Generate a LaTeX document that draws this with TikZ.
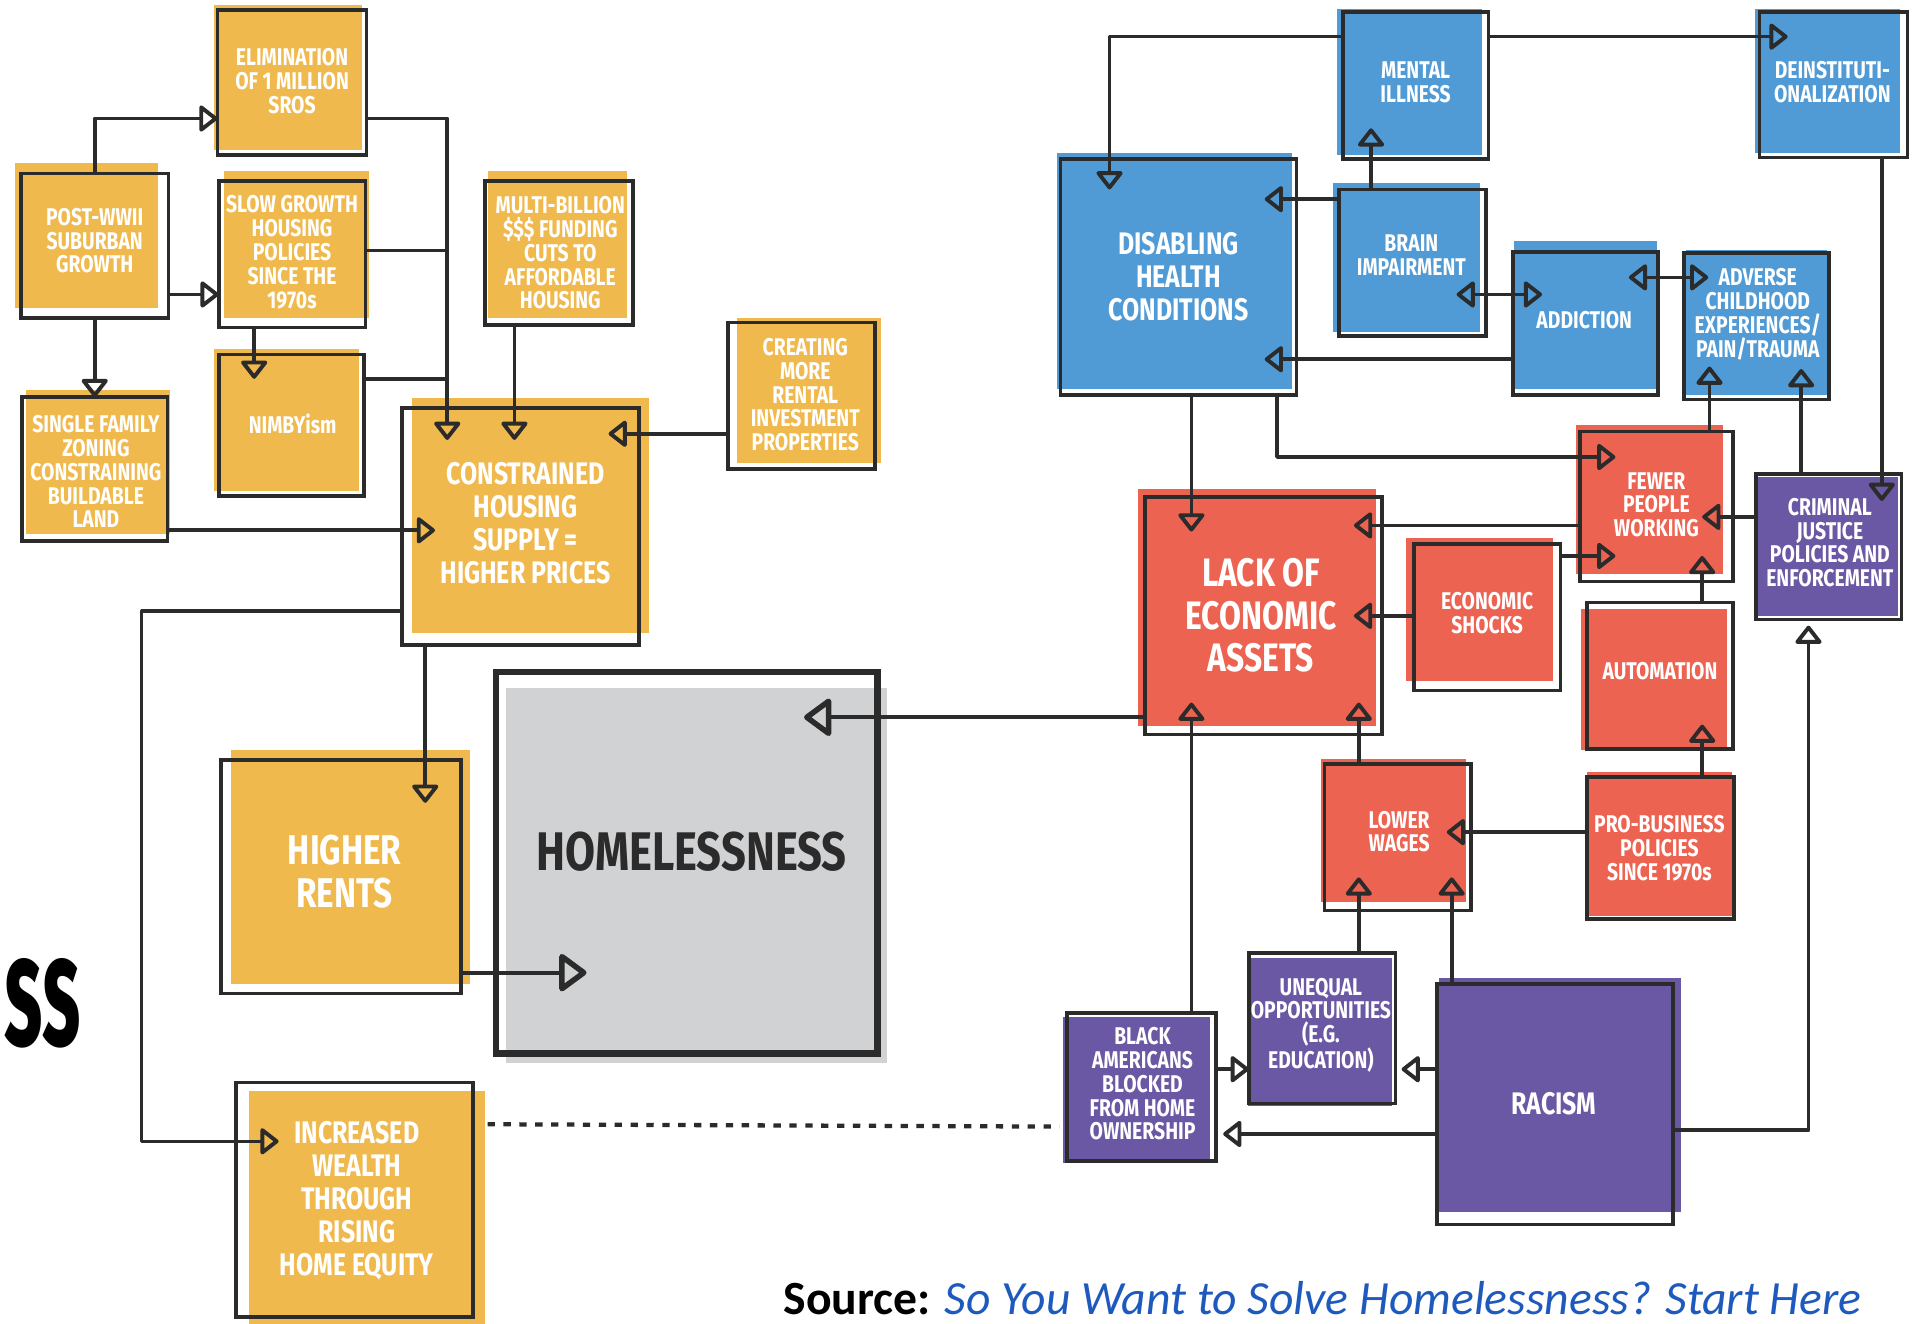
\documentclass[tikz,border=0pt]{standalone}
\usepackage{fontspec}
\usetikzlibrary{arrows.meta,calc,fit}
\newfontfamily\cf[FakeStretch=0.8]{Fira Sans}
\newfontfamily\tf[FakeStretch=0.5]{Fira Sans}
\newfontfamily\srcfont{Carlito}
\definecolor{dk}{RGB}{43,43,43}
\definecolor{cOr}{RGB}{240,185,77}
\definecolor{cBl}{RGB}{80,155,213}
\definecolor{cRd}{RGB}{237,99,82}
\definecolor{cPu}{RGB}{107,88,164}
\definecolor{cGr}{RGB}{209,210,212}
\definecolor{srcblue}{RGB}{30,90,190}
\begin{document}
\begin{tikzpicture}[x=1pt,y=-1pt,
  ob/.style={draw=dk, line width=3pt, inner sep=0pt, outer sep=0pt},
  tS/.style={text=white, align=center, inner sep=0pt, font=\cf\bfseries\fontsize{19.8}{19.5}\selectfont},
  tM/.style={text=white, align=center, inner sep=0pt, font=\cf\bfseries\fontsize{25.5}{27}\selectfont},
  tL/.style={text=white, align=center, inner sep=0pt, font=\cf\bfseries\fontsize{#1}{34.8}\selectfont},
  ln/.style={draw=dk, line width=3pt, line join=round},
  tip/.tip={Triangle[open,round,length=16pt,width=24pt,line width=3.2pt]},
  ar/.style={ln, -tip},
  ar2/.style={ln, tip-tip},
  arB/.style={draw=dk, line width=3.5pt, -{Triangle[open,round,length=24pt,width=34pt,line width=4.5pt]}},
  dots/.style={draw=dk, line width=3.5pt, dash pattern=on 6pt off 7pt}
]
\useasboundingbox (0,0) rectangle (1568,1083);
\clip (0,0) rectangle (1568,1083);

% ---------- colour patches behind the outlines ----------
% housing cluster
\fill[cOr] (175,4) rectangle (296,123);
\fill[cOr] (12,133) rectangle (129,252);
\fill[cOr] (183,140) rectangle (302,260);
\fill[cOr] (399,140) rectangle (513,260);
\fill[cOr] (175,286) rectangle (294,402);
\fill[cOr] (21,319) rectangle (139,437);
\fill[cOr] (337,326) rectangle (531,518);
\fill[cOr] (603,260) rectangle (721,379);
\fill[cOr] (189,614) rectangle (385,805);
\fill[cOr] (204,893) rectangle (397,1085);
\fill[cGr] (414,563) rectangle (726,870);
% health cluster
\fill[cBl] (1094,7) rectangle (1213,127);
\fill[cBl] (1436,7) rectangle (1555,125);
\fill[cBl] (865,125) rectangle (1057,318);
\fill[cBl] (1091,150) rectangle (1211,272);
\fill[cBl] (1239,197) rectangle (1356,318);
\fill[cBl] (1380,205) rectangle (1495,323);
% economic cluster
\fill[cRd] (1290,348) rectangle (1410,470);
\fill[cRd] (931,400) rectangle (1126,594);
\fill[cRd] (1151,440) rectangle (1271,557);
\fill[cRd] (1294,498) rectangle (1413,614);
\fill[cRd] (1081,621) rectangle (1200,738);
\fill[cRd] (1299,632) rectangle (1417,750);
% racism / justice cluster
\fill[cPu] (1435,390) rectangle (1553,504);
\fill[cPu] (1021,784) rectangle (1139,905);
\fill[cPu] (870,832) rectangle (990,952);
\fill[cPu] (1178,800) rectangle (1376,992);

% ---------- outlined boxes ----------
\node[ob, fit={(178,8)(300,127)}] (elim) {};
\node[ob, fit={(17,142)(138,260)}] (post) {};
\node[ob, fit={(179,148)(299,268)}] (slow) {};
\node[ob, fit={(397,148)(518,266)}] (multi) {};
\node[ob, fit={(179,290)(298,406)}] (nimby) {};
\node[ob, fit={(18,325)(137,443)}] (single) {};
\node[ob, fit={(329,334)(523,528)}] (cons) {};
\node[ob, fit={(596,264)(716,384)}] (create) {};
\node[ob, fit={(181,622)(377,813)}] (rents) {};
\node[ob, line width=5.5pt, fit={(406,550)(718,862)}] (home) {};
\node[ob, fit={(193,886)(387,1078)}] (wealth) {};
\node[ob, fit={(1099,10)(1218,130)}] (mental) {};
\node[ob, fit={(1440,10)(1561,129)}] (deinst) {};
\node[ob, fit={(868,130)(1061,323)}] (disab) {};
\node[ob, fit={(1096,155)(1216,275)}] (brain) {};
\node[ob, fit={(1238,206)(1357,323)}] (addict) {};
\node[ob, fit={(1378,207)(1497,327)}] (adverse) {};
\node[ob, fit={(1293,353)(1418,476)}] (fewer) {};
\node[ob, fit={(1437,388)(1556,507)}] (crim) {};
\node[ob, fit={(937,407)(1131,601)}] (lack) {};
\node[ob, fit={(1157,445)(1277,565)}] (shocks) {};
\node[ob, fit={(1299,493)(1418,613)}] (autom) {};
\node[ob, fit={(1084,625)(1204,745)}] (wages) {};
\node[ob, fit={(1299,636)(1419,752)}] (probus) {};
\node[ob, fit={(1022,780)(1142,903)}] (unequal) {};
\node[ob, fit={(873,829)(995,950)}] (black) {};
\node[ob, fit={(1176,805)(1369,1002)}] (racism) {};

% ---------- box labels ----------
\node[tS] (elimT) at ($(elim)+(0,-1)$) {ELIMINATION\\OF 1 MILLION\\SROS};
\node[tS] (postT) at ($(post)+(0,-4)$) {POST-WWII\\SUBURBAN\\GROWTH};
\node[tS] (slowT) at ($(slow)+(0,-1.5)$) {SLOW GROWTH\\HOUSING\\POLICIES\\SINCE THE\\1970s};
\node[tS] (multiT) at ($(multi)+(1,0)$) {MULTI-BILLION\\\$\$\$ FUNDING\\CUTS TO\\AFFORDABLE\\HOUSING};
\node[tS] (nimbyT) at ($(nimby)+(1,-1)$) {NIMBYism};
\node[tS] (singleT) at ($(single)+(1,2)$) {SINGLE FAMILY\\ZONING\\CONSTRAINING\\BUILDABLE\\LAND};
\node[tM] (consT) at ($(cons)+(4,-3)$) {CONSTRAINED\\HOUSING\\SUPPLY =\\HIGHER PRICES};
\node[tS] (createT) at ($(create)+(3,-1)$) {CREATING\\MORE\\RENTAL\\INVESTMENT\\PROPERTIES};
\node[tL=34] (rentsT) at ($(rents)+(3,-4)$) {HIGHER\\RENTS};
\node[inner sep=0pt, text=dk, font=\cf\bfseries\fontsize{44.5}{45}\selectfont] (homeT) at ($(home)+(4,-9)$) {HOMELESSNESS};
\node[tM] (wealthT) at ($(wealth)+(2,1)$) {INCREASED\\WEALTH\\THROUGH\\RISING\\HOME EQUITY};

\node[tS] (mentalT) at ($(mental)+(0,-2.5)$) {MENTAL\\ILLNESS};
\node[tS] (deinstT) at ($(deinst)+(-1,-2)$) {DEINSTITUTI-\\ONALIZATION};
\node[tM] (disabT) at ($(disab)+(0,0)$) {DISABLING\\HEALTH\\CONDITIONS};
\node[tS] (brainT) at ($(brain)+(-1,-6)$) {BRAIN\\IMPAIRMENT};
\node[tS] (addictT) at ($(addict)+(-1,-2.5)$) {ADDICTION};
\node[tS] (adverseT) at ($(adverse)+(1,-10)$) {ADVERSE\\CHILDHOOD\\EXPERIENCES/\\PAIN/TRAUMA};
\node[tS] (fewerT) at ($(fewer)+(0,-1.5)$) {FEWER\\PEOPLE\\WORKING};
\node[tS] (crimT) at ($(crim)+(1,-3.5)$) {CRIMINAL\\JUSTICE\\POLICIES AND\\ENFORCEMENT};
\node[tL=32.5] (lackT) at ($(lack)+(-2,-0.5)$) {LACK OF\\ECONOMIC\\ASSETS};
\node[tS] (shocksT) at ($(shocks)+(0,-3.5)$) {ECONOMIC\\SHOCKS};
\node[tS] (automT) at ($(autom)+(0,-4)$) {AUTOMATION};
\node[tS] (wagesT) at ($(wages)+(1,-4.5)$) {LOWER\\WAGES};
\node[tS] (probusT) at ($(probus)+(-1,0)$) {PRO-BUSINESS\\POLICIES\\SINCE 1970s};
\node[tS] (unequalT) at ($(unequal)+(-1,-2.5)$) {UNEQUAL\\OPPORTUNITIES\\(E.G.\\EDUCATION)};
\node[tS] (blackT) at ($(black)+(1,-2.5)$) {BLACK\\AMERICANS\\BLOCKED\\FROM HOME\\OWNERSHIP};
\node[tM] (racismT) at ($(racism)+(-1,0)$) {RACISM};

% ---------- housing connectors ----------
\draw[ar] (post.north) |- (elim.west |- 0,97);
\draw[ar] (post.east |- 0,241) -- (slow.west |- 0,241);
\draw[ar] (post.south) -- (single.north);
\draw[ar] (slow.south -| 208,0) -- ($(nimby.north -| 208,0)+(0,20)$);
\draw[ar] (elim.east |- 0,97) -| ($(cons.north -| 366,0)+(0,26)$);
\coordinate (j1) at (366,205);
\coordinate (j2) at (366,310);
\draw[ln] (slow.east |- j1) -- (j1);
\draw[ln] (nimby.east |- j2) -- (j2);
\draw[ar] (multi.south -| 421,0) -- ($(cons.north -| 421,0)+(0,26)$);
\draw[ar] (create.west |- 0,355) -- ($(cons.east |- 0,355)+(-25,0)$);
\draw[ar] (single.east |- 0,434) -- ($(cons.west |- 0,434)+(27,0)$);
\draw[ar] (cons.south -| 348,0) -- ($(rents.north -| 348,0)+(0,35)$);
\coordinate (c1) at (116,500);
\draw[ar, line width=2.5pt] (cons.west |- c1) -- (c1) |- ($(wealth.west |- 0,934)+(35,0)$);
\draw[arB] (rents.east |- 0,796) -- ($(home.west |- 0,796)+(74,0)$);
\draw[arB] (lack.west |- 0,587) -- ($(home.east |- 0,587)+(-60,0)$);
\draw[dots, shorten <=12pt, shorten >=6pt] (wealth.east |- 0,920) -- (black.west |- 0,922);

% ---------- health connectors ----------
\draw[ar] (mental.west |- 0,30) -| ($(disab.north -| 908,0)+(0,25)$);
\draw[ar] (mental.east |- 0,30) -- ($(deinst.west |- 0,30)+(23,0)$);
\draw[ar] (brain.north -| 1122,0) -- ($(mental.south -| 1122,0)+(0,-25)$);
\draw[ar] (brain.west |- 0,163) -- ($(disab.east |- 0,163)+(-26,0)$);
\draw[ar2] ($(brain.east |- 0,241)+(-24,0)$) -- ($(addict.west |- 0,241)+(24,0)$);
\draw[ar2] ($(addict.east |- 0,227)+(-24,0)$) -- ($(adverse.west |- 0,227)+(20,0)$);
\draw[ar] (addict.west |- 0,294) -- ($(disab.east |- 0,294)+(-26,0)$);
\draw[ar] (disab.south -| 975,0) -- ($(lack.north -| 975,0)+(0,28)$);
\draw[ar] (disab.south -| 1045,0) |- ($(fewer.west |- 0,374)+(29,0)$);
\draw[ar] (fewer.north -| 1399,0) -- ($(adverse.south -| 1399,0)+(0,-27)$);
\draw[ar] (crim.north -| 1474,0) -- ($(adverse.south -| 1474,0)+(0,-25)$);
\draw[ar] (deinst.south -| 1540,0) -- ($(crim.north -| 1540,0)+(0,22)$);

% ---------- economic connectors ----------
\draw[ar] (crim.west |- 0,423) -- ($(fewer.east |- 0,423)+(-25,0)$);
\draw[ar] (fewer.west |- 0,430) -- ($(lack.east |- 0,430)+(-23,0)$);
\draw[ar] (shocks.east |- 0,455) -- ($(fewer.west |- 0,455)+(29,0)$);
\draw[ar] (shocks.west |- 0,504) -- ($(lack.east |- 0,504)+(-23,0)$);
\draw[ar] (autom.north -| 1393,0) -- ($(fewer.south -| 1393,0)+(0,-21)$);
\draw[ar] (probus.north -| 1393,0) -- ($(autom.south -| 1393,0)+(0,-20)$);
\draw[ar] (probus.west |- 0,681) -- ($(wages.east |- 0,681)+(-20,0)$);
\draw[ar] (wages.north -| 1112,0) -- ($(lack.south -| 1112,0)+(0,-26)$);

% ---------- racism connectors ----------
\draw[ar] (unequal.north -| 1112,0) -- ($(wages.south -| 1112,0)+(0,-27)$);
\draw[ar] (racism.north -| 1188,0) -- ($(wages.south -| 1188,0)+(0,-27)$);
\draw[ar] (black.north -| 975,0) -- ($(lack.south -| 975,0)+(0,-26)$);
\draw[ar] (black.east |- 0,875) -- (unequal.west |- 0,875);
\draw[ar] (racism.west |- 0,875) -- ($(unequal.east |- 0,875)+(5,0)$);
\draw[ar] (racism.west |- 0,928) -- ($(black.east |- 0,928)+(6,0)$);
\draw[ar] (racism.east |- 0,925) -| ($(crim.south -| 1480,0)+(0,5)$);

% ---------- title fragment and source line ----------
\node[anchor=base east, inner sep=0pt, text=black, font=\tf\bfseries\fontsize{130}{130}\selectfont] (ttl) at (66,856) {ss};
\node[anchor=base west, inner sep=0pt, font=\srcfont\fontsize{39}{39}\selectfont] (src) at (641,1076)
  {\textbf{Source:} \textcolor{srcblue}{\itshape So You Want to Solve Homelessness? Start Here}};
\end{tikzpicture}
\end{document}
